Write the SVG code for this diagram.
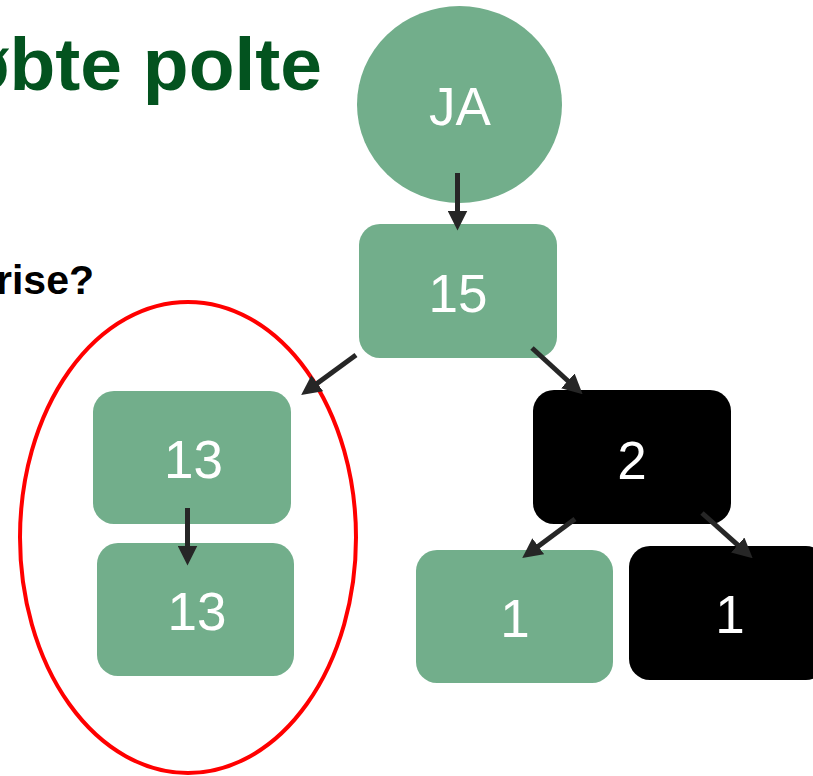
<svg xmlns="http://www.w3.org/2000/svg" width="813" height="776" viewBox="0 0 813 776">
<style>
.g{fill:#72ae8b}
.b{fill:#000}
.lbl{font-family:"Liberation Sans",Arial,sans-serif;font-size:53px;fill:#fff;text-anchor:middle}
.con{stroke:#262626;stroke-width:5;fill:none}
</style>
<defs>
<marker id="ah" markerUnits="userSpaceOnUse" markerWidth="20" markerHeight="20" refX="2" refY="8" orient="auto" viewBox="0 0 16 16">
<path d="M0,0 L16,8 L0,16 Z" fill="#262626"/>
</marker>
</defs>
<rect width="813" height="776" fill="#fff"/>
<text x="322" y="90" text-anchor="end" font-family="'Liberation Sans',Arial,sans-serif" font-size="75" font-weight="bold" fill="#03531f">øbte polte</text>
<text x="-4" y="294" font-family="'Liberation Sans',Arial,sans-serif" font-size="41" font-weight="bold" fill="#000">rise?</text>
<ellipse cx="188" cy="537.5" rx="168" ry="235.5" fill="none" stroke="#ff0000" stroke-width="4"/>
<g id="ja"><ellipse class="g" cx="459.5" cy="104.5" rx="102.5" ry="98.5"/><text class="lbl" x="460" y="125" font-size="54">JA</text></g>
<g id="n15"><rect class="g" x="359" y="224" width="198" height="134" rx="21"/><text class="lbl" x="458" y="312">15</text></g>
<g id="n13a"><rect class="g" x="93" y="391" width="198" height="133" rx="21"/><text class="lbl" x="193.5" y="478">13</text></g>
<g id="n13b"><rect class="g" x="97" y="543" width="197" height="133" rx="21"/><text class="lbl" x="197" y="630">13</text></g>
<g id="n2"><rect class="b" x="533" y="390" width="198" height="134" rx="21"/><text class="lbl" x="632" y="479">2</text></g>
<g id="n1a"><rect class="g" x="416" y="550" width="197" height="133" rx="21"/><text class="lbl" x="515" y="637">1</text></g>
<g id="n1b"><rect class="b" x="629" y="546" width="198" height="134" rx="21"/><text class="lbl" x="730" y="633">1</text></g>
<g id="connectors">
<line class="con" x1="457.5" y1="173" x2="457.5" y2="213" marker-end="url(#ah)"/>
<line class="con" x1="356" y1="355" x2="315.3" y2="384.7" marker-end="url(#ah)"/>
<line class="con" x1="532" y1="348" x2="569.7" y2="382.5" marker-end="url(#ah)"/>
<line class="con" x1="187.5" y1="508" x2="187.5" y2="548" marker-end="url(#ah)"/>
<line class="con" x1="575" y1="519" x2="536.3" y2="547.7" marker-end="url(#ah)"/>
<line class="con" x1="702" y1="513" x2="739.6" y2="546.6" marker-end="url(#ah)"/>
</g>
</svg>
